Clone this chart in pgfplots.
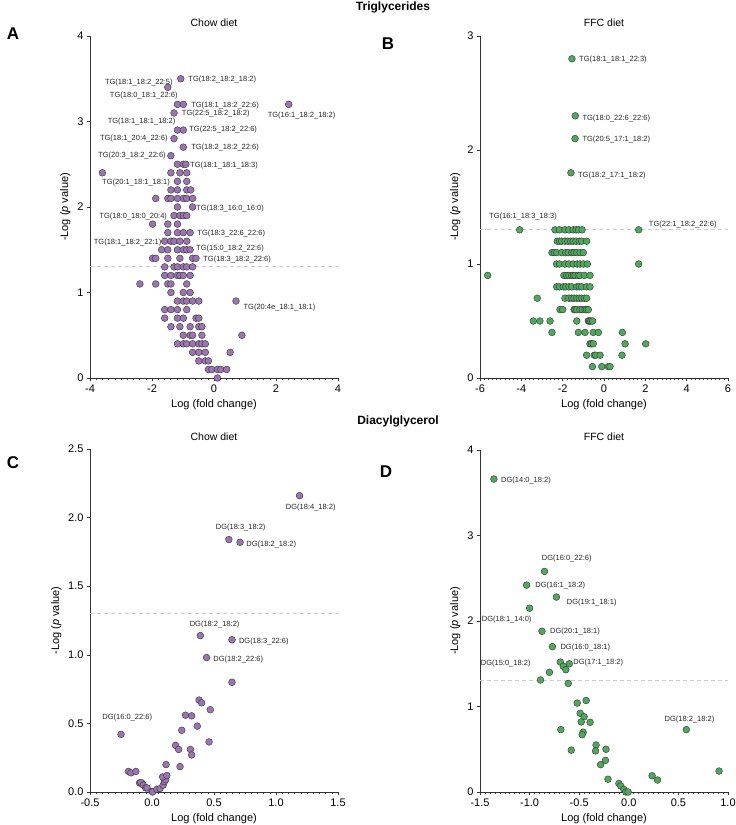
\documentclass[border=0pt]{standalone}
\usepackage{fontspec}
\setmainfont{Liberation Sans}
\usepackage{pgfplots}
\usepackage{pgfplotstable}
\pgfplotsset{compat=1.18}
\definecolor{purp}{HTML}{9B74B2}
\definecolor{grn}{HTML}{4FA85C}
\definecolor{axc}{HTML}{333333}
\newcommand{\lb}{\fontsize{7.5}{9}\selectfont}
\newcommand{\tk}{\fontsize{11}{13}\selectfont}
\pgfplotsset{
 volc/.style={
  scale only axis, clip=false,
  axis lines=left, axis line style={-, axc, line width=0.8pt},
  tick align=outside, major tick length=3pt, minor tick length=1.6pt,
  tick style={axc, line width=0.6pt},
  ticklabel style={font=\tk, text=black},
  /pgf/number format/assume math mode=true,
  label style={font=\tk},
  xlabel={Log (fold change)},
  ylabel={-Log (\textit{p} value)},
  minor x tick num=9,
 },
 pts/.style={only marks, mark=*, mark size=3.4pt, mark options={fill=#1, draw=black!80, line width=0.4pt}},
 thr/.style={draw=black!20, line width=0.8pt, dash pattern=on 4pt off 3pt},
}
\tikzset{
 lw/.style={anchor=west, font=\lb, inner sep=0pt, text=black!85},
 le/.style={anchor=east, font=\lb, inner sep=0pt, text=black!85},
 lc/.style={anchor=center, font=\lb, inner sep=0pt, text=black!85},
}
\pgfplotstableread{
x y
-1.07 3.5
-1.49 3.4
-1.18 3.2
-0.99 3.2
2.41 3.2
-1.29 3.1
-1.18 2.9
-0.99 2.9
-1.29 2.8
-0.99 2.7
-1.39 2.6
-1.18 2.5
-0.99 2.5
-0.91 2.5
-3.6 2.4
-1.39 2.4
-1.10 2.4
-0.88 2.4
-1.18 2.3
-0.88 2.3
-1.39 2.2
-1.18 2.2
-0.88 2.2
-0.75 2.2
-1.88 2.1
-1.49 2.1
-1.39 2.1
-1.18 2.1
-0.99 2.1
-0.88 2.1
-0.69 2.1
-1.18 2.0
-0.69 2.0
-1.29 1.9
-1.10 1.9
-0.99 1.9
-0.88 1.9
-1.98 1.8
-1.49 1.8
-1.18 1.8
-1.49 1.7
-1.18 1.7
-0.99 1.7
-0.77 1.7
-1.59 1.6
-1.39 1.6
-1.29 1.6
-1.10 1.6
-0.88 1.6
-1.69 1.5
-1.49 1.5
-1.18 1.5
-0.99 1.5
-0.88 1.5
-0.77 1.5
-1.98 1.4
-1.88 1.4
-1.49 1.4
-1.10 1.4
-0.69 1.4
-0.58 1.4
-1.59 1.3
-1.29 1.3
-1.18 1.3
-0.99 1.3
-0.88 1.3
-0.69 1.3
-1.59 1.2
-1.39 1.2
-1.18 1.2
-1.10 1.2
-0.99 1.2
-0.77 1.2
-2.39 1.1
-1.88 1.1
-1.49 1.1
-1.39 1.1
-0.88 1.1
-1.39 1.0
-0.99 1.0
-0.77 1.0
-1.18 0.9
-0.99 0.9
-0.88 0.9
-0.69 0.9
-0.49 0.9
0.71 0.9
-1.59 0.8
-1.39 0.8
-1.18 0.8
-0.88 0.8
-1.59 0.7
-1.18 0.7
-0.99 0.7
-0.58 0.7
-0.49 0.7
-1.39 0.6
-1.10 0.6
-0.77 0.6
-0.49 0.6
-0.39 0.6
-0.99 0.5
-0.77 0.5
-0.69 0.5
-0.39 0.5
0.90 0.5
-1.18 0.4
-0.99 0.4
-0.88 0.4
-0.69 0.4
-0.49 0.4
-0.39 0.4
-0.28 0.4
-0.69 0.3
-0.49 0.3
-0.28 0.3
0.52 0.3
-0.49 0.2
-0.28 0.2
-0.18 0.2
-0.18 0.1
-0.07 0.1
0.11 0.1
0.22 0.1
0.41 0.1
0.11 0.0
}\tga
\pgfplotstableread{
x y
-1.55 2.8
-1.39 2.3
-1.40 2.1
-1.60 1.8
-4.08 1.3
-2.37 1.3
-2.16 1.3
-1.89 1.3
-1.70 1.3
-1.49 1.3
-1.35 1.3
-1.23 1.3
-1.06 1.3
1.68 1.3
-2.26 1.2
-2.15 1.2
-2.05 1.2
-1.89 1.2
-1.75 1.2
-1.61 1.2
-1.49 1.2
-1.35 1.2
-1.20 1.2
-1.08 1.2
-0.84 1.2
-2.52 1.1
-2.40 1.1
-2.29 1.1
-2.05 1.1
-1.85 1.1
-1.73 1.1
-1.56 1.1
-1.45 1.1
-1.32 1.1
-1.15 1.1
-1.00 1.1
-2.29 1.0
-2.15 1.0
-1.89 1.0
-1.70 1.0
-1.49 1.0
-1.30 1.0
-1.16 1.0
-1.00 1.0
-0.81 1.0
1.68 1.0
-5.63 0.9
-1.94 0.9
-1.81 0.9
-1.70 0.9
-1.56 0.9
-1.48 0.9
-1.40 0.9
-1.25 0.9
-1.16 0.9
-0.95 0.9
-0.68 0.9
-2.29 0.8
-2.15 0.8
-1.97 0.8
-1.85 0.8
-1.70 0.8
-1.56 0.8
-1.32 0.8
-1.20 0.8
-1.08 0.8
-0.85 0.8
-0.68 0.8
-3.23 0.7
-1.89 0.7
-1.70 0.7
-1.56 0.7
-1.45 0.7
-1.32 0.7
-1.20 0.7
-1.08 0.7
-0.95 0.7
-0.84 0.7
-2.13 0.6
-2.00 0.6
-1.45 0.6
-1.40 0.6
-1.32 0.6
-1.16 0.6
-1.05 0.6
-0.92 0.6
-0.85 0.6
-0.76 0.6
-3.42 0.5
-3.10 0.5
-2.61 0.5
-1.32 0.5
-0.76 0.5
-0.70 0.5
-0.64 0.5
-0.55 0.5
-2.52 0.4
-1.24 0.4
-0.92 0.4
-0.52 0.4
-0.27 0.4
0.89 0.4
-0.68 0.3
-0.60 0.3
-0.52 0.3
1.02 0.3
2.02 0.3
-0.84 0.2
-0.47 0.2
-0.40 0.2
-0.19 0.2
0.87 0.2
-0.56 0.1
-0.11 0.1
0.21 0.1
0.29 0.1
}\tgb
\pgfplotstableread{
x y
1.19 2.16
0.62 1.84
0.71 1.82
0.39 1.14
0.645 1.11
0.44 0.98
0.645 0.80
0.38 0.67
0.40 0.65
0.47 0.60
0.27 0.56
0.32 0.555
0.365 0.48
0.24 0.45
-0.25 0.42
0.46 0.365
0.19 0.34
0.215 0.31
0.31 0.31
0.32 0.27
0.226 0.185
0.113 0.20
-0.19 0.15
-0.17 0.14
-0.13 0.15
-0.10 0.066
-0.08 0.063
-0.09 0.07
-0.07 0.05
-0.05 0.03
-0.04 0.03
0.0 0.005
0.005 0.0
0.04 0.02
0.065 0.025
0.09 0.05
0.10 0.075
0.11 0.09
0.086 0.11
0.12 0.12
}\dgc
\pgfplotstableread{
x y
-1.36 3.66
-0.85 2.58
-1.03 2.42
-0.73 2.28
-1.0 2.15
-0.875 1.88
-0.77 1.70
-0.69 1.52
-0.60 1.50
-0.66 1.47
-0.635 1.43
-0.80 1.40
-0.89 1.31
-0.61 1.27
-0.52 1.04
-0.43 1.07
-0.49 0.92
-0.45 0.88
-0.48 0.82
-0.39 0.815
-0.46 0.70
-0.47 0.67
-0.685 0.73
0.58 0.73
-0.58 0.49
-0.33 0.55
-0.335 0.48
-0.23 0.50
-0.235 0.37
-0.285 0.32
-0.21 0.15
-0.10 0.10
-0.08 0.07
-0.05 0.03
-0.03 0.0
-0.007 0.0
0.235 0.19
0.29 0.14
0.91 0.245
}\dgd
\begin{document}
\begin{tikzpicture}
\path[use as bounding box] (0pt,0pt) rectangle (736pt,-825pt);
% headings
\node[font=\bfseries\fontsize{12}{14}\selectfont] at (393pt,-7pt) {Triglycerides};
\node[font=\bfseries\fontsize{12}{14}\selectfont] at (398pt,-421pt) {Diacylglycerol};
\node[font=\bfseries\fontsize{17}{19}\selectfont] at (13pt,-34pt) {A};
\node[font=\bfseries\fontsize{17}{19}\selectfont] at (388pt,-44pt) {B};
\node[font=\bfseries\fontsize{17}{19}\selectfont] at (13pt,-463pt) {C};
\node[font=\bfseries\fontsize{17}{19}\selectfont] at (386pt,-472pt) {D};
\node[font=\fontsize{10.5}{12}\selectfont] at (214pt,-23pt) {Chow diet};
\node[font=\fontsize{10.5}{12}\selectfont] at (604pt,-23pt) {FFC diet};
\node[font=\fontsize{10.5}{12}\selectfont] at (214pt,-437pt) {Chow diet};
\node[font=\fontsize{10.5}{12}\selectfont] at (604pt,-437pt) {FFC diet};

% Panel A
\begin{axis}[volc, at={(90pt,-378pt)}, anchor=south west, width=248pt, height=342pt,
  xmin=-4, xmax=4, ymin=0, ymax=4, xtick={-4,-2,0,2,4}, ytick={0,1,2,3,4}]
\addplot[thr] coordinates {(-4,1.3) (4,1.3)};
\addplot[pts=purp] table[x=x,y=y] {\tga};
\node[le] at (axis cs:-1.33,3.46) {TG(18:1\_18:2\_22:5)};
\node[lw] at (axis cs:-0.83,3.49) {TG(18:2\_18:2\_18:2)};
\node[le] at (axis cs:-1.17,3.30) {TG(18:0\_18:1\_22:6)};
\node[lw] at (axis cs:-0.74,3.19) {TG(18:1\_18:2\_22:6)};
\node[lw] at (axis cs:1.73,3.07) {TG(16:1\_18:2\_18:2)};
\node[lw] at (axis cs:-1.04,3.09) {TG(22:5\_18:2\_18:2)};
\node[le] at (axis cs:-1.24,3.00) {TG(18:1\_18:1\_18:2)};
\node[lw] at (axis cs:-0.80,2.90) {TG(22:5\_18:2\_22:6)};
\node[le] at (axis cs:-1.49,2.80) {TG(18:1\_20:4\_22:6)};
\node[lw] at (axis cs:-0.74,2.69) {TG(18:2\_18:2\_22:6)};
\node[le] at (axis cs:-1.55,2.60) {TG(20:3\_18:2\_22:6)};
\node[lw] at (axis cs:-0.77,2.49) {TG(18:1\_18:1\_18:3)};
\node[le] at (axis cs:-1.42,2.29) {TG(20:1\_18:1\_18:1)};
\node[lw] at (axis cs:-0.58,1.98) {TG(18:3\_16:0\_16:0)};
\node[le] at (axis cs:-1.51,1.89) {TG(18:0\_18:0\_20:4)};
\node[lw] at (axis cs:-0.54,1.69) {TG(18:3\_22:6\_22:6)};
\node[le] at (axis cs:-1.69,1.59) {TG(18:1\_18:2\_22:1)};
\node[lw] at (axis cs:-0.58,1.51) {TG(15:0\_18:2\_22:6)};
\node[lw] at (axis cs:-0.35,1.39) {TG(18:3\_18:2\_22:6)};
\node[lw] at (axis cs:0.95,0.82) {TG(20:4e\_18:1\_18:1)};
\end{axis}

% Panel B
\begin{axis}[volc, at={(480pt,-378pt)}, anchor=south west, width=248pt, height=342pt,
  xmin=-6, xmax=6, ymin=0, ymax=3, xtick={-6,-4,-2,0,2,4,6}, ytick={0,1,2,3}]
\addplot[thr] coordinates {(-6,1.3) (6,1.3)};
\addplot[pts=grn] table[x=x,y=y] {\tgb};
\node[lw] at (axis cs:-1.21,2.79) {TG(18:1\_18:1\_22:3)};
\node[lw] at (axis cs:-1.05,2.28) {TG(18:0\_22:6\_22:6)};
\node[lw] at (axis cs:-1.05,2.09) {TG(20:5\_17:1\_18:2)};
\node[lw] at (axis cs:-1.26,1.78) {TG(18:2\_17:1\_18:2)};
\node[lc] at (axis cs:-3.92,1.415) {TG(16:1\_18:3\_18:3)};
\node[lc] at (axis cs:3.81,1.35) {TG(22:1\_18:2\_22:6)};
\end{axis}

% Panel C
\begin{axis}[volc, at={(90pt,-792pt)}, anchor=south west, width=248pt, height=343pt,
  xmin=-0.5, xmax=1.5, ymin=0, ymax=2.5, xtick={-0.5,0,0.5,1,1.5}, ytick={0,0.5,1,1.5,2,2.5},
  xticklabel style={/pgf/number format/.cd, fixed, fixed zerofill, precision=1},
  yticklabel style={/pgf/number format/.cd, fixed, fixed zerofill, precision=1}]
\addplot[thr] coordinates {(-0.5,1.3) (1.5,1.3)};
\addplot[pts=purp] table[x=x,y=y] {\dgc};
\node[lc] at (axis cs:1.28,2.07) {DG(18:4\_18:2)};
\node[lc] at (axis cs:0.715,1.925) {DG(18:3\_18:2)};
\node[lw] at (axis cs:0.76,1.805) {DG(18:2\_18:2)};
\node[lc] at (axis cs:0.505,1.224) {DG(18:2\_18:2)};
\node[lw] at (axis cs:0.70,1.10) {DG(18:3\_22:6)};
\node[lw] at (axis cs:0.494,0.966) {DG(18:2\_22:6)};
\node[lc] at (axis cs:-0.20,0.542) {DG(16:0\_22:6)};
\end{axis}

% Panel D
\begin{axis}[volc, at={(480pt,-792pt)}, anchor=south west, width=248pt, height=342pt,
  xmin=-1.5, xmax=1.0, ymin=0, ymax=4, xtick={-1.5,-1,-0.5,0,0.5,1}, ytick={0,1,2,3,4},
  xticklabel style={/pgf/number format/.cd, fixed, fixed zerofill, precision=1}]
\addplot[thr] coordinates {(-1.5,1.3) (1.0,1.3)};
\addplot[pts=grn] table[x=x,y=y] {\dgd};
\node[lw] at (axis cs:-1.288,3.646) {DG(14:0\_18:2)};
\node[lc] at (axis cs:-0.626,2.725) {DG(16:0\_22:6)};
\node[lw] at (axis cs:-0.943,2.42) {DG(16:1\_18:2)};
\node[lw] at (axis cs:-0.626,2.218) {DG(19:1\_18:1)};
\node[lw] at (axis cs:-1.483,2.015) {DG(18:1\_14:0)};
\node[lw] at (axis cs:-0.794,1.875) {DG(20:1\_18:1)};
\node[lw] at (axis cs:-0.69,1.692) {DG(16:0\_18:1)};
\node[lw] at (axis cs:-1.493,1.505) {DG(15:0\_18:2)};
\node[lw] at (axis cs:-0.56,1.517) {DG(17:1\_18:2)};
\node[lc] at (axis cs:0.612,0.842) {DG(18:2\_18:2)};
\end{axis}
\end{tikzpicture}
\end{document}
